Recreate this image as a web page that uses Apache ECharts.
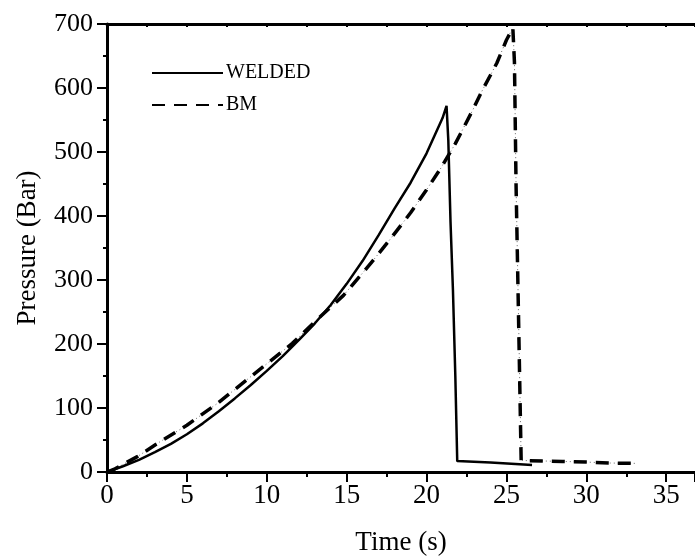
<!DOCTYPE html>
<html>
<head>
<meta charset="utf-8">
<script src="https://cdn.jsdelivr.net/npm/echarts@6/dist/echarts.min.js"></script>
<style>
html,body{margin:0;padding:0;background:#fff;}
#c{width:695px;height:557px;}
</style>
</head>
<body>
<div id="c"></div>
<script>
// ---- data ----
const weldedTime = [0, 1, 2, 3, 4, 5, 6, 7, 8, 9, 10, 11, 12, 13, 14, 15, 16, 17, 18, 19, 20, 21, 21.25, 21.36, 21.5, 21.65, 21.8, 21.92, 24.0, 26.6];
const weldedP    = [0, 9, 19, 31, 44, 59, 76, 95, 115, 136, 158, 181, 206, 232, 261, 294, 330, 370, 412, 452, 498, 553, 572, 519, 390, 285, 150, 17, 15, 11];

const bmTime = [0, 0.5, 1.9, 3.3, 5.0, 6.9, 8.3, 9.8, 11.6, 13.1, 14.8, 16.0, 16.7, 17.7, 19.0, 20.0, 20.9, 21.8, 22.9, 23.4, 24.4, 25.0, 25.4, 25.5, 25.6, 25.75, 25.92, 28.5, 30.0, 31.5, 33.1];
const bmP    = [0, 5, 24, 47, 73, 107, 135, 165, 201, 237, 276, 311, 332, 363, 405, 441, 475, 513, 566, 592, 639, 675, 694, 640, 450, 250, 18, 16.5, 15.5, 14, 13.5];

const seriesNames = ['WELDED', 'BM'];
const xTicks = [0, 5, 10, 15, 20, 25, 30, 35];
const yTicks = [0, 100, 200, 300, 400, 500, 600, 700];

const pair = (xs, ys) => xs.map((x, i) => [x, ys[i]]);
const FONT = '"Liberation Serif", "Times New Roman", serif';

const chart = echarts.init(document.getElementById('c'), null, {renderer: 'canvas'});
chart.setOption({
  animation: false,
  backgroundColor: '#fff',
  grid: {left: 107, top: 24, right: 0, bottom: 85, containLabel: false, outerBoundsMode: 'none'},
  legend: {
    data: seriesNames,
    orient: 'vertical',
    left: 151, top: 63, padding: 0,
    itemWidth: 71, itemHeight: 12, itemGap: 12,
    itemStyle: {color: 'transparent', borderWidth: 0, opacity: 0},
    textStyle: {fontFamily: FONT, fontSize: 20, color: '#000', padding: [0, 0, 0, -2]}
  },
  xAxis: [{
    type: 'value', min: 0, max: 36.8, interval: 5,
    name: 'Time (s)', nameLocation: 'middle', nameGap: 57,
    nameTextStyle: {fontFamily: FONT, fontSize: 27, color: '#000'},
    axisLine: {show: true, onZero: false, lineStyle: {color: '#000', width: 3}},
    axisTick: {show: true, inside: false, length: 10, lineStyle: {color: '#000', width: 2}},
    minorTick: {show: true, splitNumber: 2, length: 5, lineStyle: {color: '#000', width: 2}},
    axisLabel: {fontFamily: FONT, fontSize: 27, color: '#000', margin: 10,
      formatter: v => xTicks.includes(v) ? String(v) : ''},
    splitLine: {show: false}
  }, {
    type: 'value', position: 'top', min: 0, max: 36.8, interval: 2.5,
    axisLine: {show: true, onZero: false, lineStyle: {color: '#000', width: 3}},
    axisTick: {show: true, inside: true, length: 3, lineStyle: {color: '#000', width: 2}},
    axisLabel: {show: false},
    splitLine: {show: false}
  }],
  yAxis: {
    type: 'value', min: 0, max: 700, interval: 100,
    name: 'Pressure (Bar)', nameLocation: 'middle', nameGap: 66, nameRotate: 90,
    nameTextStyle: {fontFamily: FONT, fontSize: 27, color: '#000'},
    axisLine: {show: true, onZero: false, lineStyle: {color: '#000', width: 3}},
    axisTick: {show: true, inside: false, length: 10, lineStyle: {color: '#000', width: 2}},
    minorTick: {show: true, splitNumber: 2, length: 4, lineStyle: {color: '#000', width: 2}},
    axisLabel: {fontFamily: FONT, fontSize: 26, color: '#000', margin: 14,
      formatter: v => yTicks.includes(v) ? String(v) : ''},
    splitLine: {show: false}
  },
  series: [
    {
      name: 'BM-trace', type: 'line', data: pair(bmTime, bmP),
      showSymbol: false, symbol: 'none', silent: true, z: 1,
      lineStyle: {color: '#666', width: 1, type: [1, 3]}
    },
    {
      name: 'WELDED', type: 'line', data: pair(weldedTime, weldedP),
      showSymbol: false, symbol: 'none', z: 3,
      lineStyle: {color: '#000', width: 2.5, type: 'solid'},
      itemStyle: {color: '#000'}
    },
    {
      name: 'BM', type: 'line', data: pair(bmTime, bmP),
      showSymbol: false, symbol: 'none', z: 2,
      lineStyle: {color: '#000', width: 3.5, type: [13, 9]},
      itemStyle: {color: '#000'}
    }
  ]
});
</script>
</body>
</html>
